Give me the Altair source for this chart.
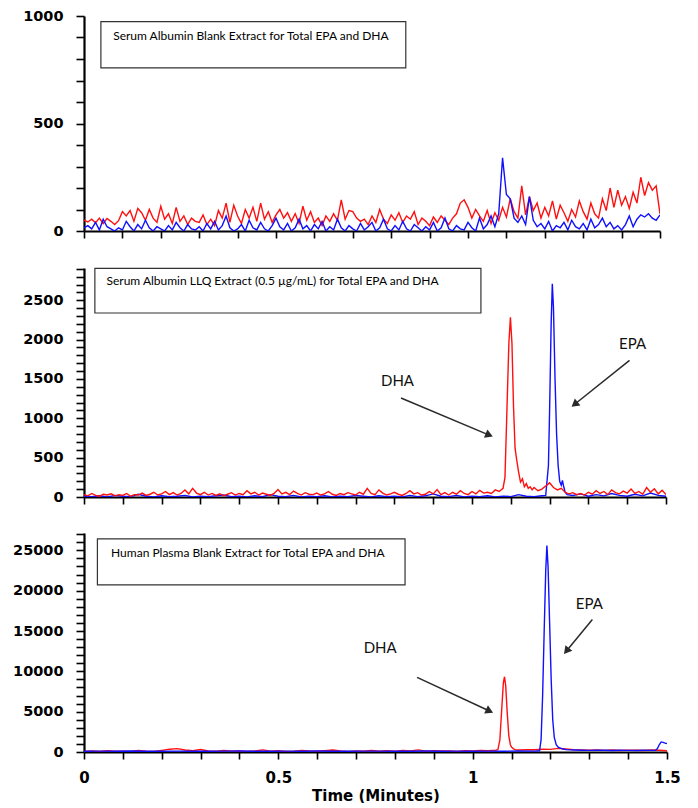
import math
import altair as alt
import pandas as pd


def grid(start, stop, step):
    n = int(round((stop - start) / step)) + 1
    return [round(start + i * step, 4) for i in range(n)]


# ---------------- Panel 1: Serum albumin blank ----------------
TOP_T = grid(0.0, 1.5, 0.01)
TOP_RED = [50, 42, 55, 38, 60, 35, 58, 45, 30, 48,
           90, 70, 95, 45, 105, 85, 50, 100, 60, 40,
           115, 55, 80, 35, 110, 45, 70, 30, 60, 45,
           40, 75, 30, 55, 25, 95, 60, 130, 40, 120,
           70, 35, 100, 60, 110, 45, 130, 55, 90, 40,
           75, 100, 60, 85, 45, 80, 35, 115, 50, 90,
           40, 60, 25, 70, 45, 80, 50, 145, 55, 95,
           90, 60, 45, 55, 30, 70, 40, 100, 55, 35,
           75, 50, 85, 40, 70, 55, 90, 30, 60, 45,
           25, 65, 40, 70, 50, 30, 60, 80, 130, 145,
           110, 60, 100, 70, 45, 95, 35, 85, 50, 110,
           65, 150, 90, 60, 210, 75, 160, 95, 130, 60,
           110, 70, 140, 55, 120, 85, 45, 100, 65, 140,
           90, 55, 130, 80, 60, 150, 95, 200, 110, 190,
           120, 160, 105, 180, 130, 250, 165, 225, 190, 210,
           80]
TOP_BLUE = [15, 25, 10, 40, 5, 55, 20, 10, 0, 15,
            5, 45, 20, 0, 30, 10, 50, 15, 0, 20,
            10, 0, 25, 5, 40, 15, 0, 30, 10, 5,
            20, 0, 35, 10, 45, 5, 25, 70, 15, 0,
            10, 30, 0, 50, 15, 5, 40, 10, 0, 25,
            60, 20, 5, 35, 0, 15, 55, 10, 25, 0,
            30, 10, 45, 0, 20, 5, 55, 15, 0, 25,
            10, 0, 35, 5, 20, 40, 0, 15, 55, 10,
            0, 25, 5, 45, 10, 0, 30, 15, 0, 20,
            5, 40, 0, 15, 60, 10, 0, 25, 10, 5,
            40, 15, 0, 60, 10, 30, 70, 20, 80, 340,
            170, 150, 60, 40, 70, 30, 160, 50, 20, 35,
            10, 45, 0, 25, 15, 40, 5, 50, 20, 10,
            35, 5, 55, 15, 30, 60, 20, 40, 10, 25,
            5, 30, 70, 20, 55, 75, 65, 80, 60, 50,
            75]

# ---------------- Panel 2: Serum albumin LLQ ----------------
MID_RED_T = (grid(0.0, 1.08, 0.01)
             + [1.085, 1.09, 1.095, 1.099, 1.103, 1.107, 1.111, 1.115, 1.12,
                1.125, 1.13, 1.135, 1.14, 1.145, 1.15, 1.155, 1.16]
             + grid(1.17, 1.50, 0.01))
MID_RED = [30, 15, 45, 20, 10, 35, 25, 40, 15, 30,
           20, 45, 10, 30, 25, 50, 20, 35, 60, 25,
           40, 70, 30, 55, 25, 45, 90, 40, 110, 50,
           30, 60, 25, 45, 20, 40, 15, 35, 55, 25,
           45, 30, 80, 40, 60, 25, 50, 35, 20, 45,
           95, 40, 60, 30, 75, 45, 25, 55, 35, 30,
           50, 25, 40, 70, 35, 20, 45, 30, 55, 40,
           25, 60, 35, 110, 45, 30, 90, 50, 25, 40,
           60, 35, 20, 45, 80, 40, 55, 25, 35, 70,
           40, 95, 30, 55, 25, 60, 35, 80, 45, 30,
           70, 40, 85, 50, 60, 45, 90, 70, 110,
           250, 1100, 1950, 2283, 1950, 1150, 620, 480, 320,
           190, 230, 130, 170, 110, 130, 90, 120,
           80, 100, 140,
           180, 120, 90, 110, 60, 40, 55, 30, 45, 25,
           60, 35, 80, 45, 70, 30, 90, 55, 40, 75,
           50, 100, 45, 70, 35, 120, 60, 105, 40, 85, 30]
MID_BLUE_T = (grid(0.0, 1.18, 0.02)
              + [1.19, 1.197, 1.2, 1.204, 1.207, 1.21, 1.214, 1.218, 1.222,
                 1.226, 1.23, 1.233, 1.236, 1.24, 1.245]
              + grid(1.26, 1.50, 0.02))
MID_BLUE = [10, 5, 15, 0, 20, 10, 5, 35, 10, 0,
            15, 5, 10, 20, 0, 10, 5, 15, 25, 5,
            10, 0, 15, 5, 30, 10, 5, 20, 0, 10,
            5, 15, 0, 10, 5, 20, 10, 0, 15, 5,
            10, 0, 20, 5, 15, 40, 10, 5, 20, 0,
            10, 5, 15, 0, 10, 5, 30, 10, 5, 15,
            20, 400, 1100, 2200, 2711, 2400, 1500, 800, 400,
            200, 150, 210, 140, 60, 30,
            20, 40, 10, 30, 15, 45, 20, 10, 35, 15, 50, 20, 10]

# ---------------- Panel 3: Human plasma blank ----------------
BOT_RED_T = (grid(0.0, 1.06, 0.02)
             + [1.065, 1.07, 1.075, 1.079, 1.082, 1.085, 1.089, 1.093, 1.097,
                1.10, 1.105, 1.11, 1.115]
             + grid(1.12, 1.50, 0.02))
BOT_RED = [80, 120, 60, 150, 90, 110, 70, 180, 100, 60,
           200, 350, 420, 250, 150, 300, 120, 90, 180, 110,
           140, 80, 120, 260, 90, 150, 70, 110, 200, 130,
           90, 160, 240, 120, 80, 140, 100, 180, 90, 150,
           110, 200, 130, 260, 90, 170, 120, 140, 80, 160,
           130, 190, 150, 220,
           300, 1500, 5500, 8600, 9330, 8200, 4800, 2000, 900,
           600, 400, 300, 250,
           250, 300, 280, 350, 320, 450, 380, 300, 250, 220,
           260, 200, 240, 190, 230, 210, 180, 250, 220, 150]
BOT_BLUE_T = (grid(0.0, 1.16, 0.04)
              + [1.172, 1.176, 1.18, 1.184, 1.188, 1.191, 1.194, 1.198, 1.202,
                 1.206, 1.21, 1.215, 1.22, 1.23, 1.24]
              + grid(1.26, 1.46, 0.02)
              + [1.47, 1.475, 1.48, 1.485, 1.49, 1.495, 1.50])
BOT_BLUE = [100, 110, 90, 120, 100, 95, 110, 100, 90, 105,
            115, 100, 95, 110, 100, 120, 100, 90, 105, 110,
            100, 95, 115, 100, 110, 90, 105, 100, 120, 110,
            150, 1500, 7000, 15000, 22500, 25600, 23000, 16000, 9000,
            4000, 1800, 900, 600, 400, 300,
            250, 220, 200, 230, 210, 190, 220, 200, 180, 210, 200,
            220, 400, 900, 1250, 1200, 1100, 1050]

for a, b in [(TOP_T, TOP_RED), (TOP_T, TOP_BLUE), (MID_RED_T, MID_RED),
             (MID_BLUE_T, MID_BLUE), (BOT_RED_T, BOT_RED), (BOT_BLUE_T, BOT_BLUE)]:
    assert len(a) == len(b), (len(a), len(b))

# ---------------- Captions and annotations ----------------
TITLES = ["Serum Albumin Blank Extract for Total EPA and DHA",
          "Serum Albumin LLQ Extract (0.5 \u00b5g/mL) for Total EPA and DHA",
          "Human Plasma Blank Extract for Total EPA and DHA"]
TOP_BOX = {"x": 0.044, "x2": 0.838, "y": 759, "y2": 974, "tx": 0.076, "ty": 908}
MID_BOX = {"x": 0.028, "x2": 1.023, "y": 2338, "y2": 2905, "tx": 0.058, "ty": 2741}
BOT_BOX = {"x": 0.0345, "x2": 0.826, "y": 20718, "y2": 26410, "tx": 0.0696, "ty": 24678}

MID_NOTES = {"label": ["DHA", "EPA"], "tx": [0.808, 1.414], "ty": [1470, 1949],
             "x1": [0.817, 1.406], "y1": [1258, 1737], "x2": [1.052, 1.258], "y2": [771, 1152]}
BOT_NOTES = {"label": ["DHA", "EPA"], "tx": [0.762, 1.30], "ty": [12834, 18403],
             "x1": [0.857, 1.308], "y1": [9245, 16423], "x2": [1.051, 1.236], "y2": [4913, 12215]}

X_TICKS = grid(0.0, 1.5, 0.1)
RED = "#ff1010"
BLUE = "#1010ff"
AX_FONT = "DejaVu Sans"
TXT_FONT = "Lato"


def make_panel(lines, ymax, ystep, ymajor, width, height, box, caption, notes, bottom):
    xs = alt.Scale(domain=[0, 1.5], nice=False, zero=False)
    ys = alt.Scale(domain=[0, ymax], nice=False, zero=True)
    x_axis = alt.Axis(
        values=X_TICKS, labels=bottom, grid=False, ticks=True,
        labelExpr="abs(datum.value*2 - round(datum.value*2)) < 0.001 ? format(datum.value, '~g') : ''",
        title="Time (Minutes)" if bottom else None,
        titleFont=AX_FONT, titleFontSize=15, titleFontWeight="bold", titleColor="#000000",
        titlePadding=3,
        labelFont=AX_FONT, labelFontSize=15, labelFontWeight="bold", labelColor="#000000",
        labelPadding=11, labelFlush=False,
        domainColor="#000000", domainWidth=2.2,
        tickColor="#000000", tickOpacity=1, tickWidth=1.6, tickSize=7,
    )
    y_axis = alt.Axis(
        values=list(range(0, ymax + 1, ystep)), grid=False, title=None, format="d", ticks=True,
        labelExpr=f"datum.value % {ymajor} === 0 ? datum.label : ''",
        labelFont=AX_FONT, labelFontSize=14.5, labelFontWeight="bold", labelColor="#000000",
        labelPadding=13, labelFlush=False, minExtent=70, maxExtent=70,
        domainColor="#000000", domainWidth=2.2,
        tickColor="#000000", tickOpacity=1, tickWidth=1.6, tickSize=8,
    )
    X = alt.X("x:Q", scale=xs, axis=x_axis)
    Y = alt.Y("y:Q", scale=ys, axis=y_axis)

    layers = []
    for t, v, col in lines:
        df = pd.DataFrame({"x": t, "y": v})
        layers.append(alt.Chart(df).mark_line(color=col, strokeWidth=1.4, clip=True)
                      .encode(x=X, y=Y))

    bdf = pd.DataFrame([box])
    layers.append(alt.Chart(bdf).mark_rect(fill="white", stroke="#333333", strokeWidth=1.2)
                  .encode(x=X, x2="x2:Q", y=Y, y2="y2:Q"))
    cdf = pd.DataFrame({"x": [box["tx"]], "y": [box["ty"]], "label": [caption]})
    layers.append(alt.Chart(cdf).mark_text(align="left", baseline="middle", font=TXT_FONT,
                                           fontSize=12, color="black")
                  .encode(x=X, y=Y, text="label:N"))

    if notes is not None:
        sx = width / 1.5
        sy = height / ymax
        rows = []
        for i, lab in enumerate(notes["label"]):
            x1, y1, x2, y2 = notes["x1"][i], notes["y1"][i], notes["x2"][i], notes["y2"][i]
            dxp = (x2 - x1) * sx
            dyp = -(y2 - y1) * sy
            L = math.hypot(dxp, dyp)
            ux, uy = dxp / L, dyp / L
            ang = math.degrees(math.atan2(dxp, -dyp)) % 360
            back = 4.5
            hx = x2 - ux * back / sx
            hy = y2 + uy * back / sy
            rows.append({"label": lab, "tx": notes["tx"][i], "ty": notes["ty"][i],
                         "x": x1, "y": y1, "x2": hx, "y2": hy, "hx": hx, "hy": hy, "ang": ang})
        ndf = pd.DataFrame(rows)
        layers.append(alt.Chart(ndf).mark_rule(color="#2a2a2a", strokeWidth=1.5)
                      .encode(x=X, y=Y, x2="x2:Q", y2="y2:Q"))
        layers.append(alt.Chart(ndf).mark_point(shape="triangle", filled=True, size=80,
                                                color="#2a2a2a", opacity=1)
                      .encode(x=alt.X("hx:Q", scale=xs, axis=x_axis),
                              y=alt.Y("hy:Q", scale=ys, axis=y_axis),
                              angle=alt.Angle("ang:Q", scale=None)))
        layers.append(alt.Chart(ndf).mark_text(font=TXT_FONT, fontSize=15, color="#111111",
                                               align="center", baseline="middle")
                      .encode(x=alt.X("tx:Q", scale=xs, axis=x_axis),
                              y=alt.Y("ty:Q", scale=ys, axis=y_axis),
                              text="label:N"))

    return alt.layer(*layers).properties(width=width, height=height)


p1 = make_panel([(TOP_T, TOP_RED, RED), (TOP_T, TOP_BLUE, BLUE)],
                1000, 100, 500, 576, 215, TOP_BOX, TITLES[0], None, False)
p2 = make_panel([(MID_BLUE_T, MID_BLUE, BLUE), (MID_RED_T, MID_RED, RED)],
                2910, 100, 500, 582, 229, MID_BOX, TITLES[1], MID_NOTES, False)
p3 = make_panel([(BOT_RED_T, BOT_RED, RED), (BOT_BLUE_T, BOT_BLUE, BLUE)],
                27150, 1000, 5000, 583, 219, BOT_BOX, TITLES[2], BOT_NOTES, True)

chart = (alt.vconcat(p1, p2, p3, spacing=28)
         .properties(padding={"top": 0, "left": 4, "right": 4, "bottom": 0}, background="white")
         .configure_view(stroke=None))

chart.save("out.html", embed_options={"renderer": "svg", "actions": False})
